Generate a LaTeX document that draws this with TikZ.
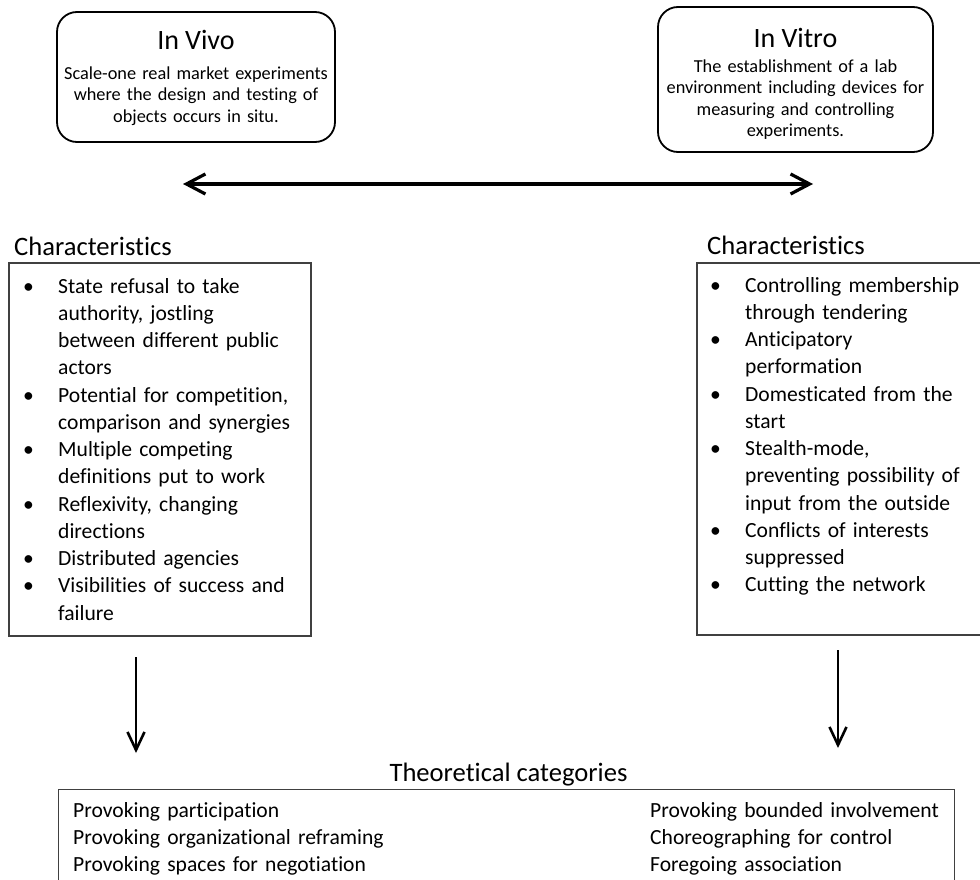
\documentclass[tikz,border=0pt]{standalone}
\usepackage{fontspec}
\setmainfont{Carlito}[Ligatures={NoCommon}]
\usetikzlibrary{arrows.meta}
\newcommand{\bitem}[1]{\noindent\hangindent=35pt\hangafter=1\makebox[35pt][l]{•}{\let\\\newline #1}\par}
\newcommand{\boxtitle}{\fontsize{28}{30}\selectfont}
\begin{document}
\begin{tikzpicture}[x=1pt,y=-1pt,
  rbox/.style={draw, line width=1.8pt, rounded corners=20pt, inner sep=0pt},
  boxtext/.style={inner sep=0pt, anchor=base, align=center, font=\fontsize{18.3}{21.5}\selectfont},
  sbox/.style={draw=black!75, line width=1.1pt, inner sep=0pt},
  head/.style={font=\fontsize{26.6}{30}\selectfont, inner sep=0pt},
  listtext/.style={inner sep=0pt, anchor=base west, align=left, font=\fontsize{21.6}{27.25}\selectfont},
  cattext/.style={inner sep=0pt, anchor=base west, align=left, font=\fontsize{21.6}{27}\selectfont},
  darr/.style={{Straight Barb[length=19pt,width=20pt]}-{Straight Barb[length=19pt,width=20pt]}, line width=3.2pt},
  arr/.style={-{Straight Barb[length=18pt,width=17pt]}, line width=2.6pt},
]
\useasboundingbox (0,0) rectangle (980,880);

% top boxes
\node[rbox, minimum width=278pt, minimum height=130pt] (vivo) at (196,77) {};
\node[boxtext, text width=278pt] (vivot) at (196,50) {{\boxtitle In Vivo}\\[8pt]
  Scale-one real market experiments\\where the design and testing of\\objects occurs in situ.};
\node[rbox, minimum width=275pt, minimum height=145pt] (vitro) at (795.5,79.5) {};
\node[boxtext, text width=275pt] (vitrot) at (795.5,48) {{\boxtitle In Vitro}\\[3pt]
  The establishment of a lab\\environment including devices for\\measuring and controlling\\experiments.};

% double arrow
\coordinate (da1) at (183,184);
\coordinate (da2) at (813,184);
\draw[darr] (da1) -- (da2);

% characteristics
\node[head, anchor=base west] (chl) at (14,255) {Characteristics};
\node[head, anchor=base west] (chr) at (707,254) {Characteristics};

\node[sbox, minimum width=302pt, minimum height=373pt] (lbox) at (160,449.5) {};
\node[sbox, minimum width=293pt, minimum height=372pt] (rbox) at (843.5,449) {};

\node[listtext, text width=290pt] (llist) at (23,293) {\setlength{\parskip}{0pt}%
\bitem{State refusal to take\\authority, jostling\\between different public\\actors}%
\bitem{Potential for competition,\\comparison and synergies}%
\bitem{Multiple competing\\definitions put to work}%
\bitem{Reflexivity, changing\\directions}%
\bitem{Distributed agencies}%
\bitem{Visibilities of success and\\failure}};

\node[listtext, text width=265pt] (rlist) at (710,292) {\setlength{\parskip}{0pt}%
\bitem{Controlling membership\\through tendering}%
\bitem{Anticipatory\\performation}%
\bitem{Domesticated from the\\start}%
\bitem{Stealth-mode,\\preventing possibility of\\input from the outside}%
\bitem{Conflicts of interests\\suppressed}%
\bitem{Cutting the network}};

% down arrows
\coordinate (la1) at (136,657);
\coordinate (la2) at (136,753);
\coordinate (ra1) at (838,650);
\coordinate (ra2) at (838,748);
\draw[arr] (la1) -- (la2);
\draw[arr] (ra1) -- (ra2);

% theoretical categories
\node[head, anchor=base] (thh) at (508.5,781) {Theoretical categories};
\node[sbox, minimum width=896pt, minimum height=130pt, anchor=north west] (tbox) at (58,789) {};
\node[cattext, text width=420pt] (tleft) at (73,817) {Provoking participation\\Provoking organizational reframing\\Provoking spaces for negotiation};
\node[cattext, text width=300pt] (tright) at (650,817) {Provoking bounded involvement\\Choreographing for control\\Foregoing association};
\end{tikzpicture}
\end{document}
